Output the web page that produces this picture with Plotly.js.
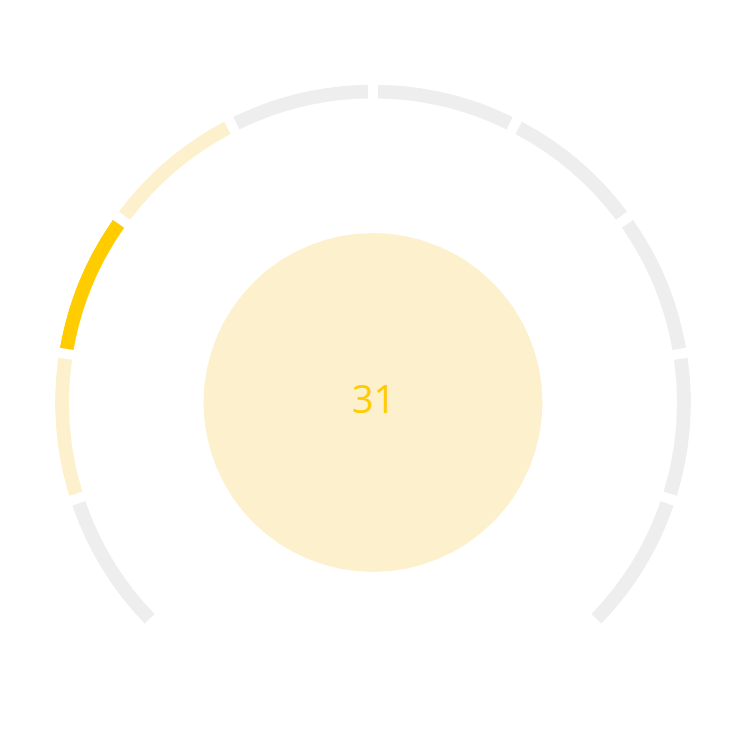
<!DOCTYPE html>
<html>
<head>
<meta charset="utf-8">
<script src="https://cdn.plot.ly/plotly-3.0.1.min.js"></script>
<style>
  html, body { margin: 0; padding: 0; background: #fff; }
  #chart { width: 742px; height: 734px; }
</style>
</head>
<body>
<div id="chart"></div>
<script>
// gauge data: 10 segments over a 270 degree sweep
var segmentLabels = ['0-10', '10-20', '20-30', '30-40', '40-50', '50-60', '60-70', '70-80', '80-90', '90-100']
var segmentColors = ['#eeeeee', '#fdf0cd', '#ffcc00', '#fdf0cd', '#eeeeee',
                     '#eeeeee', '#eeeeee', '#eeeeee', '#eeeeee', '#eeeeee']
var gaugeValue = 31

var W = 742, H = 734
var cx = 373, cy = 402.5      // centre in px (from top)
var outerR = 318, ringW = 14  // ring size in px
var innerCircleR = 169.5
var sweep = 270, segDeg = sweep / segmentLabels.length, gapDeg = 1.85

var theta = [], widths = [], rr = [], bases = []
for (var i = 0; i < segmentLabels.length; i++) {
    theta.push(segDeg / 2 + i * segDeg)
    widths.push(segDeg - gapDeg)
    rr.push(ringW)
    bases.push(outerR - ringW)
}

var ring = {
    type: 'barpolar',
    theta: theta,
    r: rr,
    base: bases,
    width: widths,
    text: segmentLabels,
    hoverinfo: 'text',
    marker: { color: segmentColors, line: { width: 0 } },
    showlegend: false,
}

var ycb = H - cy  // centre from bottom

var layout = {
    width: W,
    height: H,
    margin: { l: 0, r: 0, t: 0, b: 0 },
    paper_bgcolor: '#fff',
    showlegend: false,
    polar: {
        domain: {
            x: [(cx - outerR) / W, (cx + outerR) / W],
            y: [(ycb - outerR) / H, (ycb + outerR) / H],
        },
        bgcolor: 'rgba(0,0,0,0)',
        bargap: 0,
        radialaxis: { visible: false, range: [0, outerR], showgrid: false, showline: false },
        angularaxis: {
            visible: false,
            thetaunit: 'degrees',
            rotation: 225,
            direction: 'clockwise',
            showgrid: false,
            showline: false,
        },
    },
    shapes: [{
        type: 'circle',
        xref: 'paper', yref: 'paper',
        x0: (cx - innerCircleR) / W, x1: (cx + innerCircleR) / W,
        y0: (ycb - innerCircleR) / H, y1: (ycb + innerCircleR) / H,
        fillcolor: '#fdf0cd',
        line: { width: 0 },
        layer: 'below',
    }],
    annotations: [{
        xref: 'paper', yref: 'paper',
        x: cx / W, y: (ycb + 5) / H,
        xanchor: 'center', yanchor: 'middle',
        text: String(gaugeValue),
        showarrow: false,
        font: { family: 'Open Sans, Noto Sans, sans-serif', size: 38, color: '#ffcc00' },
    }],
}

Plotly.newPlot('chart', [ring], layout, { displayModeBar: false, staticPlot: true })
</script>
</body>
</html>
